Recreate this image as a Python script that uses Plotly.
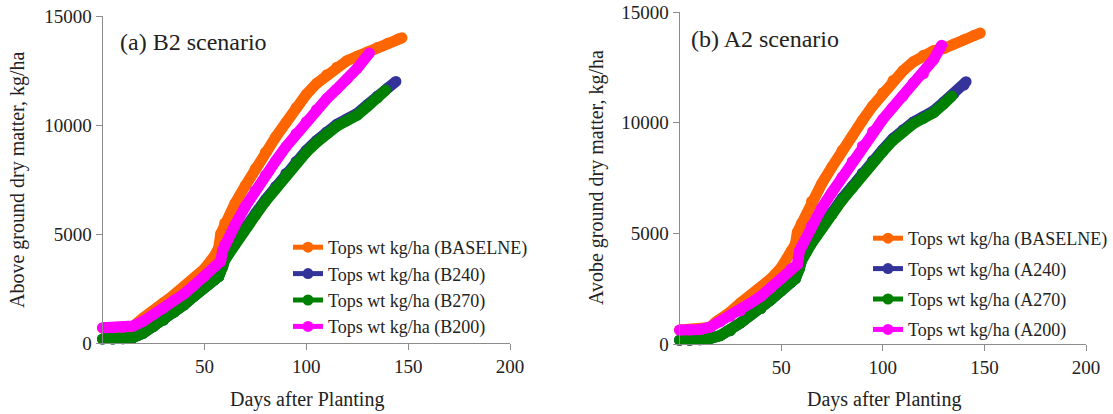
import plotly.graph_objects as go

# ---------------- data ----------------
# Panel (a) B2 scenario
b_base_days = [0, 5, 10, 15, 20, 25, 30, 35, 40, 45, 50, 55, 57, 58, 60, 65, 70, 75, 80, 85, 90, 95,
               100, 105, 110, 115, 120, 125, 130, 135, 140, 145, 147]
b_base_vals = [680, 680, 700, 760, 1150, 1450, 1850, 2200, 2550, 2950, 3400, 4000, 4350, 5000, 5500,
               6400, 7200, 8000, 8750, 9450, 10100, 10800, 11400, 11900, 12300, 12650, 12950, 13150,
               13350, 13550, 13750, 13950, 14000]

b240_days = [0, 5, 10, 15, 20, 25, 30, 35, 40, 45, 50, 55, 57, 59, 60, 65, 70, 75, 80, 85, 90, 95,
             100, 105, 110, 115, 120, 125, 130, 135, 140, 144]
b240_vals = [180, 180, 190, 250, 450, 750, 1050, 1400, 1750, 2150, 2550, 2900, 3050, 3550, 3880,
             4580, 5330, 5930, 6580, 7180, 7780, 8330, 8830, 9280, 9680, 10030, 10280, 10530, 10930,
             11330, 11700, 12000]

b270_days = [0, 5, 10, 15, 20, 25, 30, 35, 40, 45, 50, 55, 57, 59, 60, 65, 70, 75, 80, 85, 90, 95,
             100, 105, 110, 115, 120, 125, 130, 135, 139]
b270_vals = [180, 180, 190, 250, 450, 750, 1050, 1400, 1750, 2150, 2550, 2900, 3050, 3500, 3800,
             4500, 5250, 5850, 6500, 7100, 7700, 8250, 8750, 9200, 9600, 9950, 10200, 10450, 10850,
             11250, 11600]

b200_days = [0, 5, 10, 15, 20, 25, 30, 35, 40, 45, 50, 55, 58, 59, 60, 65, 70, 75, 80, 85, 90, 95,
             100, 105, 110, 115, 120, 125, 131]
b200_vals = [700, 700, 720, 780, 1000, 1300, 1600, 1950, 2250, 2650, 3050, 3500, 3750, 4250, 4500,
             5400, 6250, 7000, 7700, 8350, 9000, 9600, 10150, 10700, 11200, 11650, 12100, 12600, 13300]

# Panel (b) A2 scenario
a_base_days = [0, 5, 10, 15, 18, 20, 25, 30, 35, 40, 45, 50, 55, 57, 58, 60, 65, 70, 75, 80, 85, 90,
               95, 100, 105, 110, 115, 120, 125, 130, 135, 140, 145, 148]
a_base_vals = [630, 630, 650, 750, 1000, 1100, 1450, 1850, 2200, 2550, 2950, 3450, 4200, 4500, 5050,
               5450, 6450, 7250, 8000, 8750, 9400, 10100, 10750, 11350, 11900, 12350, 12750, 13050,
               13250, 13350, 13550, 13750, 13950, 14050]

a240_days = [0, 5, 10, 15, 20, 25, 30, 35, 40, 45, 50, 55, 57, 59, 60, 65, 70, 75, 80, 85, 90, 95,
             100, 105, 110, 115, 120, 125, 130, 135, 140, 141]
a240_vals = [170, 170, 190, 250, 380, 600, 950, 1300, 1600, 2000, 2400, 2800, 2950, 3450, 3830,
             4630, 5330, 5930, 6580, 7130, 7730, 8280, 8780, 9280, 9680, 10030, 10280, 10530, 10930,
             11300, 11700, 11850]

a270_days = [0, 5, 10, 15, 20, 25, 30, 35, 40, 45, 50, 55, 57, 59, 60, 65, 70, 75, 80, 85, 90, 95,
             100, 105, 110, 115, 120, 125, 130, 134]
a270_vals = [170, 170, 190, 250, 380, 600, 950, 1300, 1600, 2000, 2400, 2800, 2950, 3400, 3750,
             4550, 5250, 5850, 6500, 7050, 7650, 8200, 8700, 9200, 9600, 9950, 10200, 10450, 10850,
             11200]

a200_days = [0, 5, 10, 15, 20, 25, 30, 35, 40, 45, 50, 55, 58, 59, 60, 65, 70, 75, 80, 85, 90, 95,
             100, 105, 110, 115, 120, 125, 129]
a200_vals = [630, 630, 650, 760, 1000, 1250, 1500, 1850, 2150, 2550, 2950, 3400, 3600, 4200, 4400,
             5350, 6150, 6850, 7550, 8250, 8950, 9600, 10150, 10700, 11200, 11800, 12200, 12850, 13500]

left_names = ["Tops wt kg/ha (BASELNE)", "Tops wt kg/ha (B240)", "Tops wt kg/ha (B270)", "Tops wt kg/ha (B200)"]
right_names = ["Tops wt kg/ha (BASELNE)", "Tops wt kg/ha (A240)", "Tops wt kg/ha (A270)", "Tops wt kg/ha (A200)"]
colors = ["#FF6600", "#333399", "#008000", "#FF00FF"]

x_ticks = [50, 100, 150, 200]
x_tick_labels = ["50", "100", "150", "200"]
y_ticks = [0, 5000, 10000, 15000]
y_tick_labels = ["0", "5000", "10000", "15000"]
panel_titles = ["(a) B2 scenario", "(b) A2 scenario"]
y_titles = ["Above ground dry matter, kg/ha", "Avobe ground dry matter, kg/ha"]
x_title = "Days after Planting"

FONT = "Liberation Serif, Times New Roman, serif"
TXT = "#222222"
W, H = 1113, 414

left_series = [(b_base_days, b_base_vals), (b240_days, b240_vals), (b270_days, b270_vals), (b200_days, b200_vals)]
right_series = [(a_base_days, a_base_vals), (a240_days, a240_vals), (a270_days, a270_vals), (a200_days, a200_vals)]

fig = go.Figure()

def add_panel(series, names, xa, ya, legend_id):
    for (d, v), c in zip(series, colors):
        fig.add_trace(go.Scatter(
            x=d, y=v, mode="lines+markers", xaxis=xa, yaxis=ya,
            line=dict(color=c, width=11), marker=dict(color=c, size=11),
            showlegend=False, cliponaxis=False, hoverinfo="skip"))
    for i, (n, c) in enumerate(zip(names, colors)):
        fig.add_trace(go.Scatter(
            x=[None], y=[None], mode="lines+markers", xaxis=xa, yaxis=ya,
            line=dict(color=c, width=5), marker=dict(color=c, size=11),
            name=n, legend=legend_id, legendgroup=f"{legend_id}_{i}", showlegend=True))

add_panel(left_series, left_names, "x", "y", "legend")
add_panel(right_series, right_names, "x2", "y2", "legend2")

axis_common = dict(showgrid=False, zeroline=False, showline=True, linecolor="#8c8c8c", linewidth=1,
                   ticks="outside", tickcolor="#8c8c8c", ticklen=6, automargin=False,
                   tickfont=dict(family=FONT, size=19, color=TXT))

def px_x(p):
    return p / W

def px_y(p):
    return 1 - p / H

fig.update_layout(
    width=W, height=H, margin=dict(l=0, r=0, t=0, b=0), autosize=False,
    paper_bgcolor="white", plot_bgcolor="white",
    font=dict(family=FONT, color=TXT),
    xaxis=dict(domain=[px_x(102.5), px_x(510)], range=[0, 200], tickvals=x_ticks, ticktext=x_tick_labels,
               anchor="y", **axis_common),
    yaxis=dict(domain=[px_y(343), px_y(16)], range=[0, 15000], tickvals=y_ticks, ticktext=y_tick_labels,
               anchor="x", **axis_common),
    xaxis2=dict(domain=[px_x(679.5), px_x(1086)], range=[0, 200], tickvals=x_ticks, ticktext=x_tick_labels,
                anchor="y2", **axis_common),
    yaxis2=dict(domain=[px_y(344), px_y(12)], range=[0, 15000], tickvals=y_ticks, ticktext=y_tick_labels,
                anchor="x2", **axis_common),
    legend=dict(x=px_x(288), y=px_y(229), xanchor="left", yanchor="top", bgcolor="rgba(0,0,0,0)",
                font=dict(family=FONT, size=18, color=TXT), tracegroupgap=0, traceorder="grouped"),
    legend2=dict(x=px_x(868), y=px_y(220), xanchor="left", yanchor="top", bgcolor="rgba(0,0,0,0)",
                 font=dict(family=FONT, size=18, color=TXT), tracegroupgap=4, traceorder="grouped"),
    showlegend=True,
)

annos = [
    dict(text=panel_titles[0], x=px_x(118), y=px_y(42), xanchor="left", yanchor="middle", font=dict(size=24)),
    dict(text=panel_titles[1], x=px_x(689), y=px_y(39), xanchor="left", yanchor="middle", font=dict(size=24)),
    dict(text=x_title, x=px_x(307), y=px_y(399), xanchor="center", yanchor="middle", font=dict(size=20)),
    dict(text=x_title, x=px_x(884), y=px_y(399), xanchor="center", yanchor="middle", font=dict(size=20)),
    dict(text=y_titles[0], x=px_x(18), y=px_y(180), xanchor="center", yanchor="middle", textangle=-90, font=dict(size=20)),
    dict(text=y_titles[1], x=px_x(596), y=px_y(178), xanchor="center", yanchor="middle", textangle=-90, font=dict(size=20)),
]
for a in annos:
    a["font"].update(family=FONT, color=TXT)
    fig.add_annotation(xref="paper", yref="paper", showarrow=False, **a)

fig.write_html("out.html", config={"displayModeBar": False},
               post_script="document.body.style.margin='0';document.body.style.padding='0';")
